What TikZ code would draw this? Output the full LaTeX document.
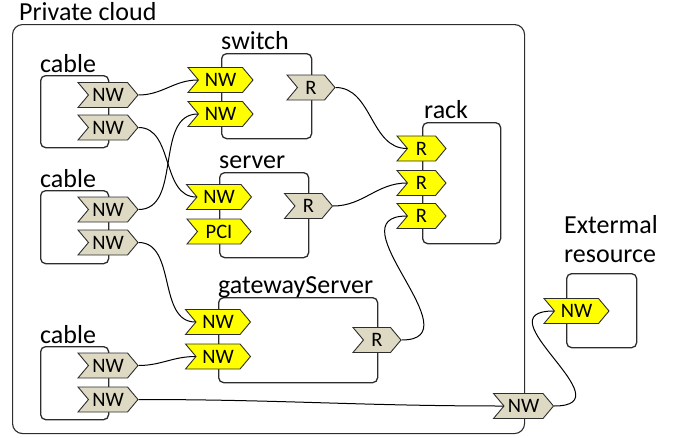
\documentclass[tikz,border=0pt]{standalone}
\usepackage{fontspec}
\setmainfont{Carlito}
\usetikzlibrary{shapes.symbols}
\definecolor{portgray}{RGB}{221,217,195}
\definecolor{portyellow}{RGB}{255,255,0}
\definecolor{edgegray}{RGB}{45,45,45}

\begin{document}
\begin{tikzpicture}[x=1pt,y=-1pt,
  box/.style={draw=edgegray, line width=1.3pt, rounded corners=5pt, inner sep=0pt, anchor=north west},
  cloudbox/.style={box, rounded corners=10pt, line width=1.1pt},
  lbl/.style={anchor=base west, inner sep=0pt, font=\fontsize{26}{28}\selectfont},
  port/.style={shape=signal, signal from=west, signal to=east, signal pointer angle=100,
    draw=edgegray, line width=0.9pt, minimum height=25pt, inner sep=0pt,
    font=\fontsize{20.5}{21}\selectfont},
  gnw/.style={port, fill=portgray, minimum width=60pt},
  ynw/.style={port, fill=portyellow, minimum width=65pt},
  gr/.style={port, fill=portgray, minimum width=48pt},
  yr/.style={port, fill=portyellow, minimum width=49pt},
  ypci/.style={port, fill=portyellow, minimum width=64pt},
  conn/.style={draw=black, line width=1pt}
]
\useasboundingbox (0,0) rectangle (680,437);

% private cloud boundary
\node[cloudbox, minimum width=512pt, minimum height=409pt] (cloud) at (12,24) {};
\node[lbl] (cloudlbl) at (19,20) {Private cloud};

% cables
\node[box, minimum width=68pt, minimum height=72pt] (cab1) at (40,75) {};
\node[lbl] (cab1lbl) at (40,72) {cable};
\node[box, minimum width=68pt, minimum height=73pt] (cab2) at (40,190) {};
\node[lbl] (cab2lbl) at (40,187) {cable};
\node[box, minimum width=68pt, minimum height=73pt] (cab3) at (40,346) {};
\node[lbl] (cab3lbl) at (40,343) {cable};

% devices
\node[box, minimum width=90pt, minimum height=85pt] (switch) at (221,53) {};
\node[lbl] (switchlbl) at (221,49) {switch};
\node[box, minimum width=89pt, minimum height=85pt] (server) at (219,172) {};
\node[lbl] (serverlbl) at (219,168) {server};
\node[box, minimum width=159pt, minimum height=85pt] (gateway) at (218,297) {};
\node[lbl] (gatewaylbl) at (218,293) {gatewayServer};
\node[box, minimum width=78pt, minimum height=121pt] (rack) at (422,122) {};
\node[lbl] (racklbl) at (424,118) {rack};

% external resource
\node[box, minimum width=70pt, minimum height=74pt] (ext) at (566,273) {};
\node[lbl] (extlbl1) at (564,233) {Extermal};
\node[lbl] (extlbl2) at (564,262) {resource};

% ports
\node[gnw] (c1a) at (108,95) {NW};
\node[gnw] (c1b) at (108,127.5) {NW};
\node[gnw] (c2a) at (108,209.5) {NW};
\node[gnw] (c2b) at (108,242.5) {NW};
\node[gnw] (c3a) at (108,365.5) {NW};
\node[gnw] (c3b) at (108,399.5) {NW};

\node[ynw] (sw1) at (220.5,80) {NW};
\node[ynw] (sw2) at (220.5,114) {NW};
\node[gr]  (swR) at (311,87.5) {R};

\node[ynw]  (sv1) at (219,197) {NW};
\node[ypci] (svP) at (219,231.5) {PCI};
\node[gr]   (svR) at (308.5,206) {R};

\node[ynw] (gw1) at (218,322) {NW};
\node[ynw] (gw2) at (218,356.5) {NW};
\node[gr]  (gwR) at (377,340) {R};

\node[yr] (rk1) at (421.5,148.5) {R};
\node[yr] (rk2) at (421.5,183) {R};
\node[yr] (rk3) at (421.5,216) {R};

\node[ynw] (exNW) at (576.5,311) {NW};
\node[gnw] (clNW) at (523.5,406) {NW};

% connections
\draw[conn] (c1a.east) to[out=0,in=180] (sw1.west);
\draw[conn] (c1b.east) to[out=0,in=180] (sv1.west);
\draw[conn] (c2a.east) to[out=0,in=180] (sw2.west);
\draw[conn] (c2b.east) to[out=0,in=180] (gw1.west);
\draw[conn] (c3a.east) to[out=0,in=180] (gw2.west);
\draw[conn] (c3b.east) to[out=0,in=180] (clNW.west);
\draw[conn] (swR.east) to[out=0,in=180] (rk1.west);
\draw[conn] (svR.east) to[out=0,in=180] (rk2.west);
\draw[conn] (gwR.east) .. controls +(75,0) and +(-75,0) .. (rk3.west);
\draw[conn] (clNW.east) .. controls +(75,0) and +(-75,0) .. (exNW.west);
\end{tikzpicture}
\end{document}
